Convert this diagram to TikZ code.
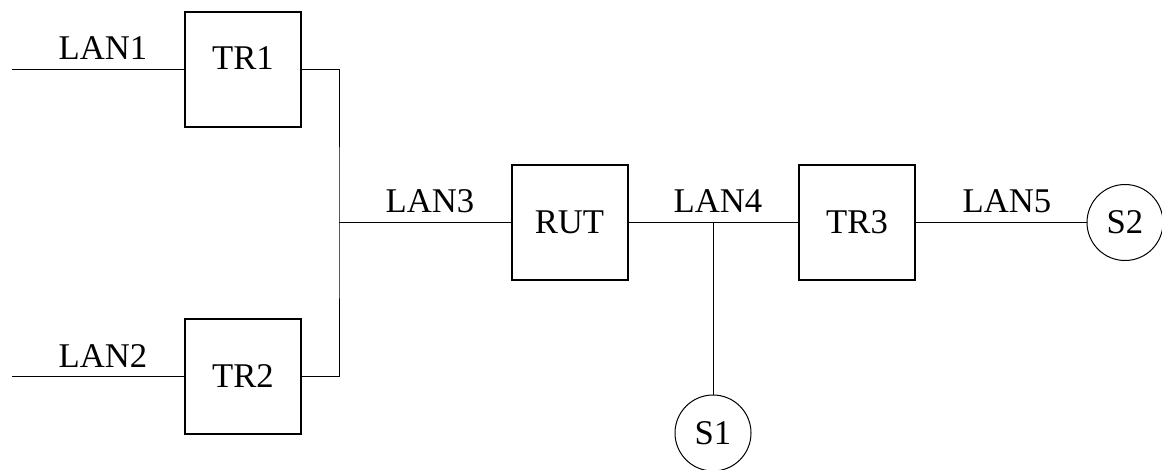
\documentclass[tikz,border=0pt]{standalone}
\usepackage{fontspec}
\setmainfont{Liberation Serif}

\tikzset{
    unit/.style={draw, line width=1.5pt, minimum width=87pt, minimum height=86pt, inner sep=0pt},
    station/.style={draw, circle, line width=0.75pt, minimum size=57pt, inner sep=0pt},
    lan/.style={line width=0.75pt},
    lanlabel/.style={anchor=base, inner sep=0pt}
}

\begin{document}
\begin{tikzpicture}[x=0.75pt, y=-0.75pt, font=\fontsize{26}{31}\selectfont]
        \useasboundingbox (0, 0) rectangle (1162, 470);

        % bridges and router
        \node[unit] (tr1) at (243, 69.5){};
        \node[lanlabel] (tr1txt) at (tr1.center){TR1};
        \node[unit] (tr2) at (243, 376.5){TR2};
        \node[unit] (rut) at (569.5, 222.5){RUT};
        \node[unit] (tr3) at (857, 222.5){TR3};

        % stations
        \node[station] (s1) at (713, 433){S1};
        \node[station] (s2) at (1125, 222.5){S2};

        % free ends and junctions
        \coordinate (lan1end) at (12, 69.5);
        \coordinate (lan2end) at (12, 376.5);
        \coordinate (bus) at (339, 222.5);
        \coordinate (tap) at (713, 222.5);

        % segments
        \draw[lan] (lan1end) -- (tr1.west);
        \draw[lan] (lan2end) -- (tr2.west);
        \draw[lan] (tr1.east) -| (bus) |- (tr2.east);
        \draw[lan] (bus) -- (rut.west);
        \draw[lan] (rut.east) -- (tr3.west);
        \draw[lan] (tap) -- (s1);
        \draw[lan] (tr3.east) -- (s2);

        % segment names
        \node[lanlabel] (lan1) at (103, 60){LAN1};
        \node[lanlabel] (lan2) at (103, 367){LAN2};
        \node[lanlabel] (lan3) at (430, 213){LAN3};
        \node[lanlabel] (lan4) at (718, 213){LAN4};
        \node[lanlabel] (lan5) at (1007, 213){LAN5};
    \end{tikzpicture}
\end{document}
